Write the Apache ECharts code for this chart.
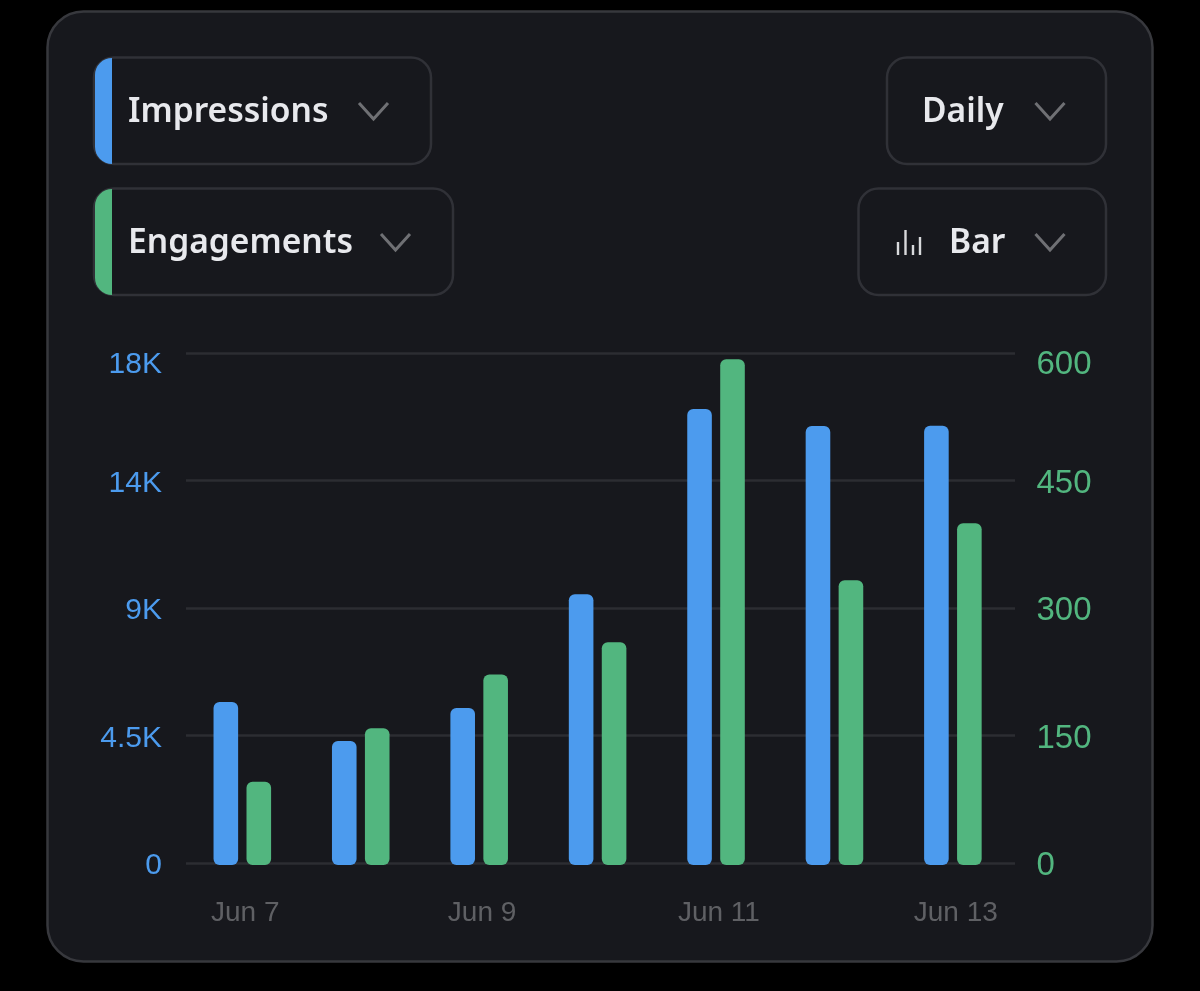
<!DOCTYPE html>
<html>
<head>
<meta charset="utf-8">
<style>html,body{margin:0;padding:0;background:#000}#c{width:1200px;height:991px}</style>
<script src="https://cdn.jsdelivr.net/npm/echarts@6/dist/echarts.min.js"></script>
</head>
<body>
<div id="c"></div>
<script>
const categories = ['Jun 7', 'Jun 8', 'Jun 9', 'Jun 10', 'Jun 11', 'Jun 12', 'Jun 13'];
const impressions = [5750, 4380, 5540, 9560, 16090, 15490, 15500];
const engagements = [98, 161, 224, 262, 595, 335, 402];
const leftTickLabels = ['0', '4.5K', '9K', '14K', '18K'];
const rightTickLabels = ['0', '150', '300', '450', '600'];
const seriesNames = ['Impressions', 'Engagements'];
const controlLabels = ['Daily', 'Bar'];

const BLUE = '#4c9bee', GREEN = '#52b67f', GRID = '#2c2d32', LINE = '#303137', TXT = '#e8e9ed', CHEV = '#6f7074';
const UI_FONT = '600 33.6px "Noto Sans"';
const AX_FONT = 'Liberation Sans';

function box(x, y, w, h) {
  return { type: 'rect', silent: true, z: -5, shape: { x, y, width: w, height: h, r: 20 },
    style: { fill: 'transparent', stroke: LINE, lineWidth: 2.5 } };
}
function swatch(y, color) {
  return { type: 'rect', silent: true, z: -4, shape: { x: 95, y, width: 17, height: 106, r: [17, 0, 0, 17] }, style: { fill: color } };
}
function label(text, x, y) {
  return { type: 'text', silent: true, z: -3, style: { text, x, y, fill: TXT, font: UI_FONT, textVerticalAlign: 'middle' } };
}
function chevron(cx, y) {
  return { type: 'polyline', silent: true, z: -3, shape: { points: [[cx - 14.5, y], [cx, y + 16], [cx + 14.5, y]] },
    style: { fill: 'none', stroke: CHEV, lineWidth: 3 } };
}
function tick(x, top) {
  return { type: 'line', silent: true, z: -3, shape: { x1: x, y1: top, x2: x, y2: 255 }, style: { stroke: '#d8d9dc', lineWidth: 2.4 } };
}
function tickRich(color, fontSize) {
  const base = { color, fontSize, fontFamily: AX_FONT };
  return { top: { ...base, lineHeight: 24 }, mid: { ...base, lineHeight: 6 } };
}
function tickText(labels, step) {
  return (v) => '{' + (v / step === labels.length - 1 ? 'top' : 'mid') + '|' + labels[v / step] + '}';
}

const option = {
  backgroundColor: '#000',
  animation: false,
  graphic: { elements: [
    { type: 'rect', silent: true, z: -10, shape: { x: 47.5, y: 11.5, width: 1105, height: 950, r: 36 },
      style: { fill: '#17181d', stroke: '#37383d', lineWidth: 2.5 } },
    box(94, 57.5, 337, 106.5), box(94, 188.5, 359, 106.5), box(887, 57.5, 219, 106.5), box(858.5, 188.5, 247.5, 106.5),
    swatch(58, BLUE), swatch(189, GREEN),
    label(seriesNames[0], 128, 112), label(seriesNames[1], 128, 243),
    label(controlLabels[0], 922, 112), label(controlLabels[1], 949, 243),
    chevron(373.5, 103), chevron(395.5, 234), chevron(1050, 103), chevron(1050, 234),
    tick(898, 242), tick(905.5, 230), tick(913, 245), tick(920, 237)
  ] },
  grid: [
    { left: 186, width: 829, top: 353, height: 510 },
    { left: 183.1, width: 829, top: 355, height: 510 }
  ],
  xAxis: [
    { type: 'category', gridIndex: 0, data: categories, axisLine: { show: false }, axisTick: { show: false },
      axisLabel: { interval: 1, margin: 36, color: '#5f6064', fontSize: 28, fontFamily: AX_FONT } },
    { type: 'category', gridIndex: 1, data: categories, show: false }
  ],
  yAxis: [
    { type: 'value', gridIndex: 0, min: 0, max: 18000, interval: 4500, axisLine: { show: false }, axisTick: { show: false },
      splitLine: { lineStyle: { color: GRID, width: 2.5 } },
      axisLabel: { margin: 24, verticalAlign: 'top', rich: tickRich(BLUE, 30), formatter: tickText(leftTickLabels, 4500) } },
    { type: 'value', gridIndex: 0, position: 'right', min: 0, max: 600, interval: 150, axisLine: { show: false }, axisTick: { show: false },
      splitLine: { show: false },
      axisLabel: { margin: 21.5, verticalAlign: 'top', rich: tickRich(GREEN, 33), formatter: tickText(rightTickLabels, 150) } },
    { type: 'value', gridIndex: 1, min: 0, max: 18000, show: false },
    { type: 'value', gridIndex: 1, min: 0, max: 600, show: false }
  ],
  series: [
    { name: seriesNames[0], type: 'bar', xAxisIndex: 1, yAxisIndex: 2, data: impressions, barWidth: 24.6, barGap: '34%',
      itemStyle: { color: BLUE, borderRadius: 6 } },
    { name: seriesNames[1], type: 'bar', xAxisIndex: 1, yAxisIndex: 3, data: engagements, barWidth: 24.6, barGap: '34%',
      itemStyle: { color: GREEN, borderRadius: 6 } }
  ]
};
echarts.init(document.getElementById('c')).setOption(option);
</script>
</body>
</html>
